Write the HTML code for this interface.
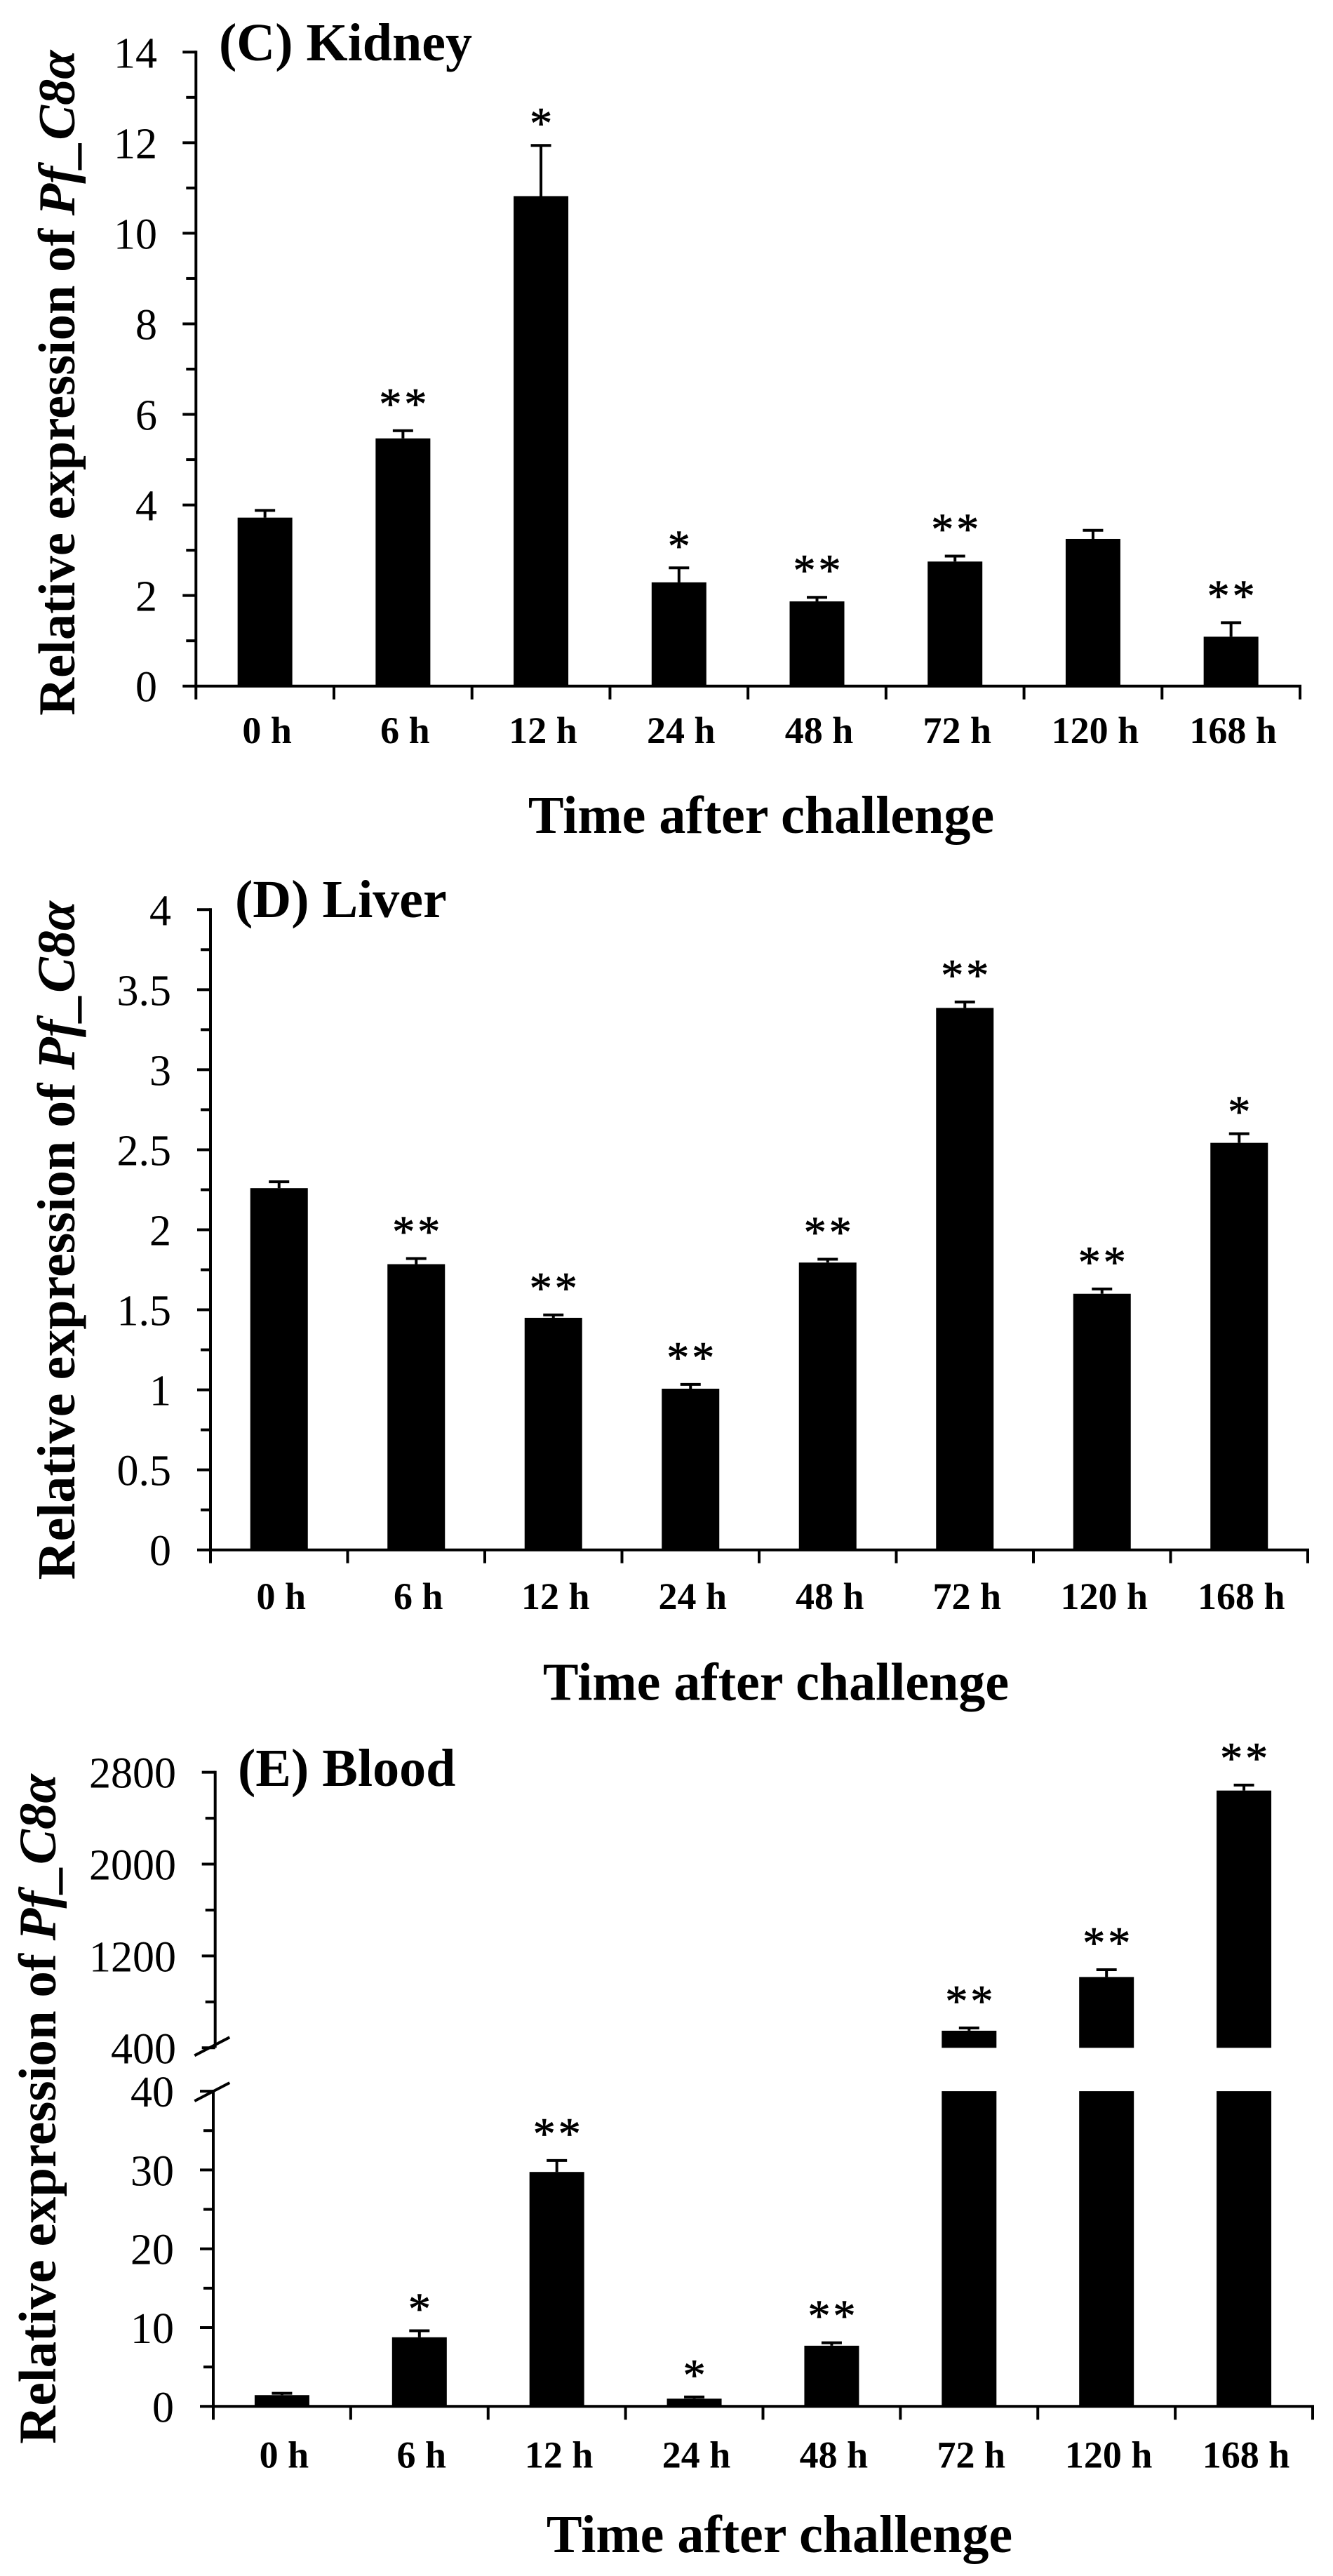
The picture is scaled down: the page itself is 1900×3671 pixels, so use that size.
<!DOCTYPE html>
<html lang="en">
<head>
<meta charset="utf-8">
<title>Relative expression of Pf_C8α after challenge</title>
<style>
html,body{margin:0;padding:0;background:#fff;}
svg{display:block;}
text{font-family:"Liberation Serif","DejaVu Serif",serif;fill:#000;}
</style>
</head>
<body>
<svg id="figure" xmlns="http://www.w3.org/2000/svg" width="1900" height="3671" viewBox="0 0 1900 3671">
<rect x="0" y="0" width="1900" height="3671" fill="#fff"/>
</svg>
<script>
const categories = ['0 h','6 h','12 h','24 h','48 h','72 h','120 h','168 h'];

const kidneyValues = [3.72,5.47,10.82,2.29,1.87,2.75,3.25,1.09];
const kidneyErrorTops = [3.88,5.64,11.94,2.61,1.96,2.87,3.44,1.40];
const kidneyMarks = ['','**','*','*','**','**','','**'];
const kidneyTicks = ['0','2','4','6','8','10','12','14'];

const liverValues = [2.26,1.785,1.45,1.007,1.795,3.386,1.60,2.543];
const liverErrorTops = [2.30,1.82,1.468,1.034,1.816,3.423,1.63,2.60];
const liverMarks = ['','**','**','**','**','**','**','*'];
const liverTicks = ['0','0.5','1','1.5','2','2.5','3','3.5','4'];

const bloodValues = [1.43,8.77,29.75,0.98,7.7,549,1017,2641];
const bloodErrorTops = [1.66,9.6,31.2,1.2,8.07,573,1080,2689];
const bloodMarks = ['','*','**','*','**','**','**','**'];
const bloodLowerTicks = ['0','10','20','30','40'];
const bloodUpperTicks = ['400','1200','2000','2800'];

const NS = 'http://www.w3.org/2000/svg';
const root = document.getElementById('figure');
const STROKE = 4;

function line(parent, x1, y1, x2, y2) {
  const el = document.createElementNS(NS, 'line');
  el.setAttribute('x1', x1);
  el.setAttribute('y1', y1);
  el.setAttribute('x2', x2);
  el.setAttribute('y2', y2);
  el.setAttribute('stroke', '#000');
  el.setAttribute('stroke-width', STROKE);
  parent.appendChild(el);
  return el;
}
function rect(parent, x, y, w, h) {
  const el = document.createElementNS(NS, 'rect');
  el.setAttribute('x', x);
  el.setAttribute('y', y);
  el.setAttribute('width', w);
  el.setAttribute('height', h);
  el.setAttribute('fill', '#000');
  parent.appendChild(el);
  return el;
}
function label(parent, str, x, y, size, anchor, weight) {
  const el = document.createElementNS(NS, 'text');
  el.setAttribute('x', x);
  el.setAttribute('y', y);
  el.setAttribute('font-size', size);
  el.setAttribute('text-anchor', anchor);
  el.setAttribute('font-weight', weight);
  el.textContent = str;
  parent.appendChild(el);
  return el;
}
function group(name) {
  const g = document.createElementNS(NS, 'g');
  
  
  root.appendChild(g);
  return g;
}

function yTitle(g, baseX, bottomY, size) {
  const el = document.createElementNS(NS, 'text');
  el.setAttribute('transform', 'translate(' + baseX + ',' + bottomY + ') rotate(-90)');
  el.setAttribute('font-size', size);
  el.setAttribute('font-weight', 'bold');
  const a = document.createElementNS(NS, 'tspan');
  a.textContent = 'Relative expression of ';
  el.appendChild(a);
  const b = document.createElementNS(NS, 'tspan');
  b.setAttribute('font-style', 'italic');
  b.textContent = 'Pf_C8α';
  el.appendChild(b);
  
  
  g.appendChild(el);
}

function yAxis(g, x, yFn, ticks, labelRight) {
  const topV = parseFloat(ticks[ticks.length - 1]);
  const botV = parseFloat(ticks[0]);
  const axis = line(g, x, yFn(topV) - 2, x, yFn(botV));
  
  
  ticks.forEach(function (t, i) {
    const v = parseFloat(t);
    const tk = line(g, x - 19, yFn(v), x, yFn(v));
    
    
    const lb = label(g, t, labelRight, yFn(v) + 22, 62, 'end', 'normal');
    
    
    if (i < ticks.length - 1) {
      const mid = (v + parseFloat(ticks[i + 1])) / 2;
      const m = line(g, x - 14, yFn(mid), x, yFn(mid));
      
      
    }
  });
}

function xAxis(g, p) {
  const base = line(g, p.x0 - 2, p.baseY, p.x1 + 2, p.baseY);
  
  
  const band = (p.x1 - p.x0) / categories.length;
  for (let i = 0; i <= categories.length; i++) {
    const tk = line(g, p.x0 + i * band, p.baseY, p.x0 + i * band, p.baseY + 19);
    
    
  }
  categories.forEach(function (c, i) {
    const lb = label(g, c, p.x0 + (i + 0.5) * band + 3, p.catY, 54, 'middle', 'bold');
    
    
  });
  const xt = label(g, 'Time after challenge', p.xTitleX, p.xTitleY, 76, 'middle', 'bold');
  
  
}

function errorBar(g, cx, yBar, yTop) {
  const stem = line(g, cx, yBar, cx, yTop);
  
  
  const cap = line(g, cx - 14.5, yTop, cx + 14.5, yTop);
  
  
}

function star(g, mark, cx, yTop) {
  if (!mark) return;
  const gap = mark.length > 1 ? 47 : 40;
  const el = label(g, mark, cx + 2, yTop - gap + 30, 64, 'middle', 'normal');
  el.setAttribute('letter-spacing', '4');
  el.setAttribute('stroke', '#000');
  el.setAttribute('stroke-width', '0.8');
  
  
}

function simplePanel(name, p, values, tops, marks, ticks) {
  const g = group(name);
  const band = (p.x1 - p.x0) / categories.length;
  const yFn = function (v) { return p.baseY - v * p.unit; };
  yAxis(g, p.x0, yFn, ticks, p.labelRight);
  values.forEach(function (v, i) {
    const cx = p.x0 + (i + 0.5) * band;
    errorBar(g, cx, yFn(v), yFn(tops[i]));
    const b = rect(g, cx - p.barW / 2, yFn(v), p.barW, yFn(0) - yFn(v));
    
    
    star(g, marks[i], cx, yFn(tops[i]));
  });
  xAxis(g, p);
  yTitle(g, p.titleBase, p.titleBottom, p.titleSize);
  const t = label(g, p.panelTitle, p.panelX, p.panelY, 76, 'start', 'bold');
  
  
}

simplePanel('kidney-panel', {
  x0: 279.3, x1: 1853, baseY: 977.7, unit: 64.53, barW: 78, labelRight: 224,
  catY: 1059, xTitleX: 1085, xTitleY: 1187, titleBase: 106, titleBottom: 1019.7, titleSize: 74.5,
  panelTitle: '(C) Kidney', panelX: 312, panelY: 86
}, kidneyValues, kidneyErrorTops, kidneyMarks, kidneyTicks);

simplePanel('liver-panel', {
  x0: 300, x1: 1864, baseY: 2208.7, unit: 228.1, barW: 82, labelRight: 244,
  catY: 2293, xTitleX: 1106, xTitleY: 2422.6, titleBase: 106, titleBottom: 2251.4, titleSize: 76,
  panelTitle: '(D) Liver', panelX: 335, panelY: 1307
}, liverValues, liverErrorTops, liverMarks, liverTicks);

(function bloodPanel() {
  const g = group('blood-panel');
  const p = { x0: 304, x1: 1871, baseY: 3429.3, catY: 3516.7, xTitleX: 1111, xTitleY: 3637 };
  const band = (p.x1 - p.x0) / categories.length;
  const barW = 78;
  const lowerMax = 40;
  const upperMin = 400;
  const yLower = function (v) { return 3429.3 - v * 11.23; };
  const yUpper = function (v) { return 2918.3 - (v - upperMin) * 0.1636; };
  yAxis(g, 304, yLower, bloodLowerTicks, 248);
  yAxis(g, 306.7, yUpper, bloodUpperTicks, 251);
  bloodValues.forEach(function (v, i) {
    const cx = p.x0 + (i + 0.5) * band;
    const isHigh = v > lowerMax;
    const yFn = isHigh ? yUpper : yLower;
    errorBar(g, cx, yFn(v), yFn(bloodErrorTops[i]));
    if (isHigh) {
      const up = rect(g, cx - barW / 2, yUpper(v), barW, yUpper(upperMin) - yUpper(v));
      
      
      const low = rect(g, cx - barW / 2, yLower(lowerMax), barW, yLower(0) - yLower(lowerMax));
      
      
    } else {
      const b = rect(g, cx - barW / 2, yLower(v), barW, yLower(0) - yLower(v));
      
      
    }
    star(g, bloodMarks[i], cx, yFn(bloodErrorTops[i]));
  });
  const s1 = line(g, 277.3, yUpper(upperMin) + 11, 327.3, yUpper(upperMin) - 15);
  
  
  const s2 = line(g, 277.3, yLower(lowerMax) + 14, 327.3, yLower(lowerMax) - 12);
  
  
  xAxis(g, p);
  yTitle(g, 79, 3482.7, 75);
  const t = label(g, '(E) Blood', 339, 2545, 76, 'start', 'bold');
  
  
})();
</script>
</body>
</html>
